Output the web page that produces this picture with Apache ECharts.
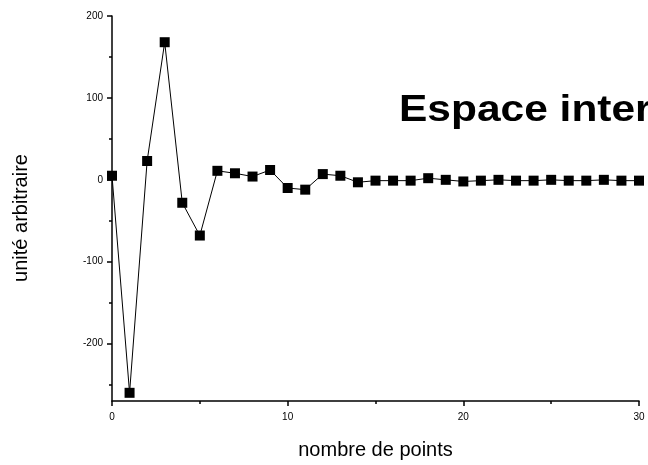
<!DOCTYPE html>
<html>
<head>
<meta charset="utf-8">
<script src="https://cdn.jsdelivr.net/npm/echarts@6/dist/echarts.min.js"></script>
<style>
  html, body { margin: 0; padding: 0; background: #fff; }
  #chart { width: 648px; height: 465px; }
</style>
</head>
<body>
<div id="chart"></div>
<script>
// values
const points = [0, 1, 2, 3, 4, 5, 6, 7, 8, 9, 10, 11, 12, 13, 14, 15, 16, 17, 18, 19, 20, 21, 22, 23, 24, 25, 26, 27, 28, 29, 30];
const values = [5, -260, 23, 168, -28, -68, 11, 8, 4, 12, -10, -12, 7, 5, -3, -1, -1, -1, 2, 0, -2, -1, 0, -1, -1, 0, -1, -1, 0, -1, -1];
const yMajorTicks = [-200, -100, 0, 100, 200];
const yMinorTicks = [-250, -150, -50, 50, 150];

const chartDom = document.getElementById('chart');
const myChart = echarts.init(chartDom);

const font = 'Liberation Sans, Arial, sans-serif';

const option = {
  animation: false,
  backgroundColor: '#fff',
  grid: { left: 112, right: 9, top: 16, bottom: 63, containLabel: false },
  xAxis: {
    type: 'value',
    min: 0,
    max: 30,
    interval: 10,
    name: 'nombre de points',
    nameLocation: 'middle',
    nameGap: 39,
    nameTextStyle: { fontFamily: font, fontSize: 20, color: '#000' },
    axisLine: { onZero: false, lineStyle: { color: '#000', width: 1.5 } },
    axisTick: { length: 5, lineStyle: { color: '#000', width: 1.5 } },
    minorTick: { show: true, splitNumber: 2, length: 3, lineStyle: { color: '#000', width: 1.5 } },
    axisLabel: { fontFamily: font, fontSize: 10, color: '#000', margin: 11 },
    splitLine: { show: false }
  },
  yAxis: [
    {
      type: 'value',
      min: -270,
      max: 200,
      axisLine: { show: true, onZero: false, lineStyle: { color: '#000', width: 1.5 } },
      axisTick: { show: true, length: 5, customValues: yMajorTicks, lineStyle: { color: '#000', width: 1.5 } },
      axisLabel: { fontFamily: font, fontSize: 10, color: '#000', margin: 9, customValues: yMajorTicks },
      splitLine: { show: false }
    },
    {
      type: 'value',
      min: -270,
      max: 200,
      position: 'left',
      axisLine: { show: false, onZero: false },
      axisTick: { show: true, length: 3, customValues: yMinorTicks, lineStyle: { color: '#000', width: 1.5 } },
      axisLabel: { show: false },
      splitLine: { show: false }
    }
  ],
  graphic: [
    {
      type: 'text',
      left: 399,
      top: 93,
      scaleX: 1.18,
      style: { text: 'Espace interférogramme', fontFamily: font, fontSize: 36, fontWeight: 'bold', fill: '#000' }
    },
    {
      // y axis name, rotated
      type: 'text',
      x: 21,
      y: 218,
      rotation: Math.PI / 2,
      style: { text: 'unité arbitraire', fontFamily: font, fontSize: 20, fill: '#000', align: 'center', verticalAlign: 'middle' }
    }
  ],
  series: [
    {
      type: 'line',
      yAxisIndex: 0,
      data: points.map((p, i) => [p, values[i]]),
      symbol: 'rect',
      symbolSize: 10,
      itemStyle: { color: '#000' },
      lineStyle: { color: '#000', width: 1 },
      clip: true
    }
  ]
};

myChart.setOption(option);
</script>
</body>
</html>
